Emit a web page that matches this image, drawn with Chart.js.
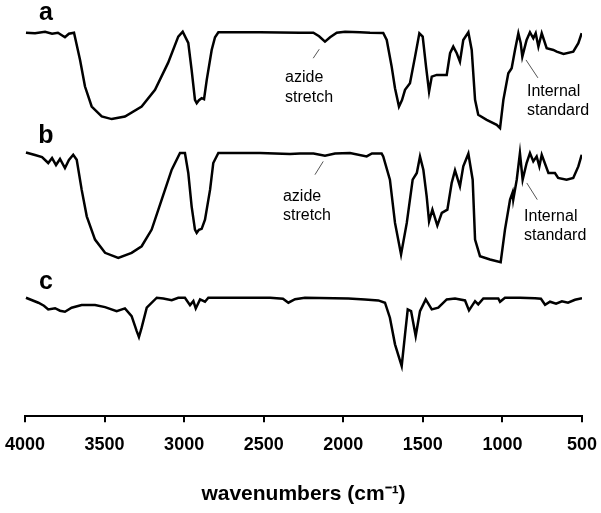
<!DOCTYPE html>
<html>
<head>
<meta charset="utf-8">
<script src="https://cdn.jsdelivr.net/npm/chart.js@4.4.1/dist/chart.umd.min.js"></script>
<style>
  html, body { margin: 0; padding: 0; background: #fff; }
  #wrap { width: 601px; height: 513px; }
</style>
</head>
<body>
<div id="wrap"><canvas id="irChart" width="601" height="513"></canvas></div>
<script>
'use strict';

// x tick labels (cm-1), axis runs high -> low
const xTicks = [4000, 3500, 3000, 2500, 2000, 1500, 1000, 500];

// spectrum a: wavenumber / relative transmittance (baseline = 100)
const waveA = [3994, 3937, 3874, 3830, 3793, 3749, 3724, 3692, 3654, 3623, 3581, 3518, 3455, 3372, 3267, 3183,
  3101, 3037, 3009, 2974, 2953, 2932, 2921, 2907, 2890, 2875, 2858, 2827, 2806, 2785, 2523, 2272, 2188, 2152,
  2115, 2083, 2041, 1989, 1895, 1832, 1749, 1727, 1696, 1675, 1650, 1631, 1612, 1581, 1549, 1522, 1501, 1480,
  1461, 1444, 1413, 1350, 1329, 1309, 1287, 1267, 1246, 1214, 1193, 1172, 1152, 1099, 1036, 1015, 994, 963,
  942, 921, 900, 885, 875, 848, 827, 806, 791, 774, 753, 722, 680, 659, 616, 555, 523, 502];
const transA = [99.6, 99, 100.5, 98.5, 99.5, 95, 98.5, 99.6, 72.3, 45.6, 25.6, 15.6, 13, 15.6, 25.6, 42.3,
  69.3, 95.6, 100.6, 89.3, 62.3, 32.3, 29, 32, 34, 33, 52.3, 82.3, 95, 100, 100, 99.5, 99.5, 96,
  90.6, 95, 99.5, 100.5, 100, 99.5, 99.3, 92.3, 65.6, 44, 25.6, 32, 42.3, 49, 75.6, 99, 95.6, 65.6,
  40.6, 55.6, 57.3, 57.3, 79, 85.6, 79, 70.6, 92.3, 100, 82.3, 32.3, 17.3, 12.3, 7.3, 4, 32.3, 59,
  64, 82.3, 99, 89, 75.6, 92.3, 100, 94, 99, 85.6, 99, 84, 82.3, 80.6, 78.3, 80.6, 89, 99];

// spectrum b
const waveB = [3994, 3937, 3893, 3854, 3830, 3805, 3780, 3749, 3724, 3697, 3675, 3644, 3612, 3560, 3497, 3414,
  3330, 3267, 3204, 3141, 3078, 3026, 2995, 2974, 2953, 2932, 2921, 2907, 2890, 2869, 2837, 2817, 2785, 2523,
  2335, 2272, 2187, 2115, 2052, 1958, 1853, 1820, 1759, 1749, 1707, 1675, 1637, 1601, 1564, 1538, 1518, 1497,
  1476, 1461, 1440, 1409, 1381, 1346, 1319, 1298, 1267, 1246, 1214, 1187, 1172, 1141, 1078, 1011, 984, 952,
  936, 932, 910, 890, 873, 848, 827, 806, 785, 768, 753, 711, 670, 650, 597, 555, 523, 502];
const transB = [100.6, 98, 96, 90, 95, 88, 94, 85, 93, 98.3, 93.3, 63.3, 36.6, 13.3, 0, -5,
  0, 6.6, 23.3, 53.3, 83.3, 100, 100, 80, 46.6, 23.3, 20, 23, 24, 33.3, 63.3, 90, 100, 100,
  99, 99.5, 99.5, 97.3, 99.5, 100, 96.6, 99.5, 99.5, 96.6, 73.3, 30, -1.7, 30, 73.3, 80, 96.6, 83.3,
  56.6, 31.6, 43.3, 27.3, 40, 43.3, 70, 82.6, 66.6, 86.6, 99.3, 73.3, 13.3, -3.4, -6.7, -9.4, 23.3, 53.3,
  60.6, 53.3, 73.3, 100, 73.3, 90, 100, 91.6, 96.6, 86.6, 98.3, 80, 80, 75, 73.3, 75, 86.6, 98.3];

// spectrum c
const waveC = [3994, 3916, 3881, 3854, 3811, 3780, 3749, 3707, 3644, 3560, 3497, 3424, 3372, 3330, 3298, 3284,
  3267, 3235, 3172, 3131, 3078, 3037, 2995, 2963, 2942, 2927, 2900, 2869, 2848, 2460, 2379, 2345, 2303, 2241,
  1968, 1864, 1780, 1738, 1707, 1675, 1633, 1612, 1595, 1574, 1545, 1518, 1482, 1444, 1403, 1350, 1298, 1235,
  1210, 1172, 1152, 1120, 1026, 1015, 984, 890, 795, 758, 732, 701, 663, 626, 588, 544, 500];
const transC = [100, 95, 92, 88.3, 89.5, 87, 86, 90, 92.6, 92.6, 90.6, 86.6, 89.3, 81.6, 66.6, 60.6,
  70, 90, 100, 99.3, 97.6, 100, 100, 92.6, 96.6, 89.3, 98.3, 96, 100, 100, 99, 95, 98.5, 100,
  99.3, 98.3, 97.3, 95, 80, 53.3, 31.6, 63.3, 88.3, 86.6, 61.6, 86.6, 98.3, 88.3, 90, 98.3, 99.3, 97.3,
  87.3, 96.6, 93.3, 99.3, 99.3, 96, 100, 100, 99.5, 99, 93, 96, 94, 96.5, 95, 98, 99.5];

// vertical stacking of the three traces
const OFFSET_A = 0;
const OFFSET_B = -121;
const OFFSET_C = -266;

function toPoints(waves, vals, offset) {
  return waves.map((w, i) => ({ x: w, y: vals[i] + offset }));
}

const FONT = "Arial, 'Liberation Sans', sans-serif";

// labels and annotations, in wavenumber / plotted-value coordinates
const traceLabels = [
  { text: 'a', x: 3868, y: 112 },
  { text: 'b', x: 3868, y: -11 },
  { text: 'c', x: 3868, y: -157 },
];
const notes = [
  { lines: ['azide', 'stretch'], x: 2366, y: 54.3, line: [2151, 83, 2189, 74] },
  { lines: ['Internal', 'standard'], x: 846, y: 40.6, line: [852, 72.3, 777, 54.3] },
  { lines: ['azide', 'stretch'], x: 2379, y: -64.4, line: [2126, -29.4, 2178, -42.7] },
  { lines: ['Internal', 'standard'], x: 864, y: -84.4, line: [847, -51, 781, -67.7] },
];

const textPlugin = {
  id: 'spectrumText',
  afterDatasetsDraw(chart) {
    const { ctx, scales: { x, y } } = chart;
    ctx.save();
    ctx.fillStyle = '#000';
    ctx.font = 'bold 25px ' + FONT;
    ctx.textAlign = 'center';
    ctx.textBaseline = 'alphabetic';
    traceLabels.forEach(l => ctx.fillText(l.text, x.getPixelForValue(l.x), y.getPixelForValue(l.y)));

    ctx.font = '16px ' + FONT;
    ctx.textAlign = 'left';
    ctx.textBaseline = 'middle';
    notes.forEach(n => {
      const px = x.getPixelForValue(n.x);
      const py = y.getPixelForValue(n.y);
      n.lines.forEach((t, i) => ctx.fillText(t, px, py + i * 19.5));
      ctx.strokeStyle = '#555';
      ctx.lineWidth = 1;
      ctx.beginPath();
      ctx.moveTo(x.getPixelForValue(n.line[0]), y.getPixelForValue(n.line[1]));
      ctx.lineTo(x.getPixelForValue(n.line[2]), y.getPixelForValue(n.line[3]));
      ctx.stroke();
    });
    ctx.restore();
  }
};

const traceStyle = { borderColor: '#000', borderWidth: 2.5, pointRadius: 0, tension: 0, fill: false };

new Chart(document.getElementById('irChart'), {
  type: 'line',
  data: {
    datasets: [
      { label: 'a', data: toPoints(waveA, transA, OFFSET_A), ...traceStyle },
      { label: 'b', data: toPoints(waveB, transB, OFFSET_B), ...traceStyle },
      { label: 'c', data: toPoints(waveC, transC, OFFSET_C), ...traceStyle },
    ]
  },
  options: {
    responsive: false,
    animation: false,
    layout: { padding: { top: 15, left: 25, right: 19, bottom: 0 } },
    plugins: { legend: { display: false }, tooltip: { enabled: false } },
    scales: {
      x: {
        type: 'linear',
        reverse: true,
        min: 500,
        max: 4000,
        afterBuildTicks: axis => { axis.ticks = xTicks.map(v => ({ value: v })); },
        afterFit: axis => { axis.paddingLeft = 0; axis.paddingRight = 0; },
        ticks: {
          color: '#000', padding: 12,
          font: { family: FONT, size: 18, weight: 'bold' },
          callback: v => String(v)
        },
        grid: { display: true, drawOnChartArea: false, drawTicks: true, tickLength: 6, color: '#000', lineWidth: 2 },
        border: { display: true, color: '#000', width: 2 },
        title: {
          display: true,
          text: 'wavenumbers (cm\u207B\u00B9)',
          color: '#000',
          font: { family: FONT, size: 21, weight: 'bold' },
          padding: { top: 14, bottom: 6 }
        }
      },
      y: { display: false, min: -284.7, max: 117.3 }
    }
  },
  plugins: [textPlugin]
});
</script>
</body>
</html>
